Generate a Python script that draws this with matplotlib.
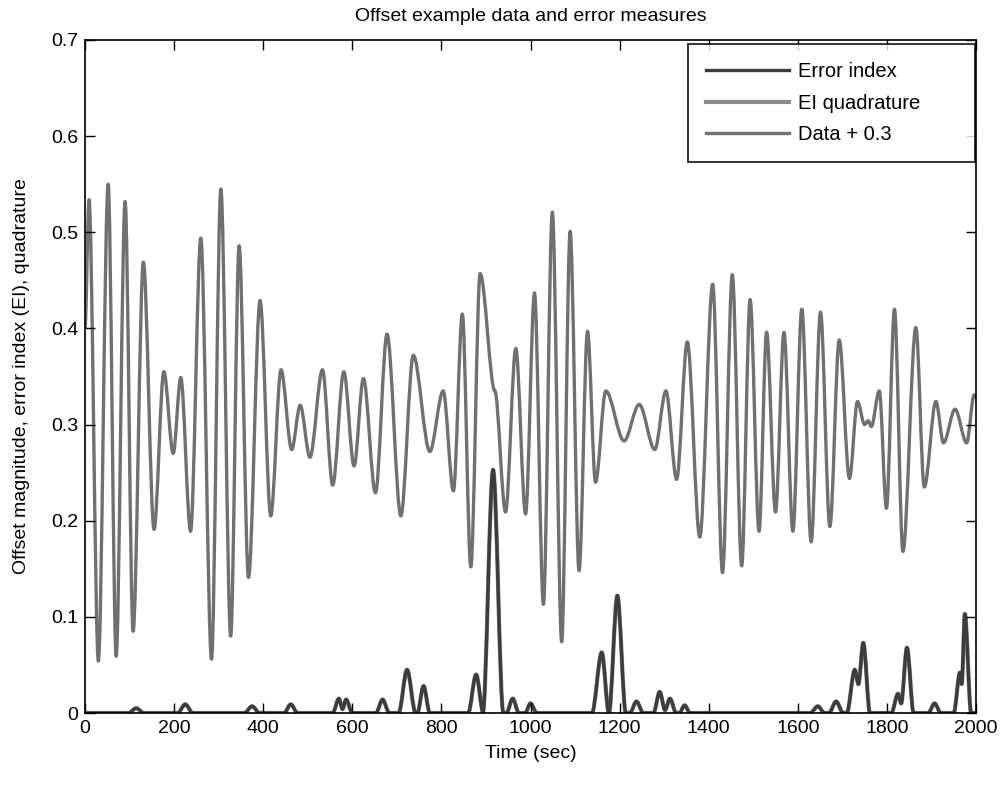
import matplotlib
matplotlib.use("Agg")
import matplotlib.pyplot as plt
from matplotlib.path import Path
from matplotlib.patches import PathPatch
from matplotlib.lines import Line2D

plt.rcParams['font.family'] = ['Liberation Sans', 'DejaVu Sans']

# ---- Data (extrema of each curve) ----
data_t = [0, 9, 30, 52, 70, 90, 108, 131, 155, 177, 198, 215, 237, 260, 284, 305, 327,
          346, 367, 393, 417, 440, 464, 483, 505, 533, 556, 581, 604, 625, 652, 678,
          709, 737, 774, 804, 827, 847, 866, 887, 920, 944, 967, 989, 1009,
          1029, 1049, 1070, 1089, 1109, 1128, 1146, 1169, 1210, 1244, 1279, 1304, 1328, 1352,
          1380, 1409, 1431, 1453, 1474, 1493, 1513, 1530, 1550, 1569, 1589, 1609, 1630, 1651,
          1672, 1693, 1716, 1734, 1750, 1758, 1765, 1783, 1799, 1817, 1836, 1865, 1884, 1910,
          1927, 1953, 1979, 1996, 2000]
data_v = [0.40, 0.534, 0.054, 0.550, 0.059, 0.532, 0.085, 0.469, 0.191, 0.355, 0.270, 0.349,
          0.189, 0.494, 0.056, 0.545, 0.080, 0.486, 0.141, 0.429, 0.205, 0.357, 0.274, 0.320,
          0.266, 0.357, 0.237, 0.355, 0.257, 0.348, 0.229, 0.394,
          0.205, 0.372, 0.272, 0.335, 0.231, 0.415, 0.152, 0.457, 0.335, 0.209, 0.379, 0.207, 0.437,
          0.113, 0.521, 0.074, 0.501, 0.148, 0.397, 0.240, 0.335, 0.283, 0.321, 0.274, 0.335,
          0.243, 0.386,
          0.183, 0.446, 0.146, 0.456, 0.153, 0.430, 0.189, 0.396, 0.209, 0.396, 0.189, 0.420,
          0.178, 0.417, 0.194, 0.388, 0.244, 0.324, 0.300, 0.304, 0.298, 0.335, 0.213, 0.420,
          0.168, 0.401, 0.235, 0.324, 0.281, 0.316, 0.281, 0.331, 0.328]

err_t = [0, 98, 115, 132, 208, 225, 242, 358, 375, 392, 447, 462, 477, 556, 570, 578, 586,
         600, 653, 668, 683, 704, 723, 742, 746, 760, 774, 860, 878, 894, 893, 916, 939,
         946, 960, 974, 988, 1000, 1014, 1138, 1160, 1176, 1195, 1214, 1223, 1238, 1253,
         1276, 1290, 1302, 1313, 1327, 1334, 1346, 1358, 1628, 1645, 1660, 1670, 1686, 1702,
         1710, 1728, 1736, 1747, 1762, 1810, 1825, 1832, 1845, 1860, 1893, 1907, 1921, 1950,
         1964, 1968, 1975, 1989, 2000]
err_v = [0.0, 0.0, 0.005, 0.0, 0.0, 0.009, 0.0, 0.0, 0.007, 0.0, 0.0, 0.009, 0.0, 0.0, 0.015,
         0.004, 0.014, 0.0, 0.0, 0.014, 0.0, 0.0, 0.045, 0.0, 0.0, 0.028, 0.0, 0.0, 0.040,
         0.0, 0.0, 0.253, 0.0, 0.0, 0.015, 0.0, 0.0, 0.010, 0.0, 0.0, 0.063, 0.0, 0.122, 0.0,
         0.0, 0.012, 0.0, 0.0, 0.022, 0.003, 0.015, 0.0, 0.0, 0.008, 0.0, 0.0, 0.007, 0.0,
         0.0, 0.012, 0.0, 0.0, 0.045, 0.030, 0.073, 0.0, 0.0, 0.020, 0.010, 0.068, 0.0, 0.0,
         0.010, 0.0, 0.0, 0.042, 0.030, 0.103, 0.0, 0.0]

# EI quadrature lies under the error index in the reference
quad_t = err_t
quad_v = err_v

labels = ["Error index", "EI quadrature", "Data + 0.3"]
x_ticks = [0, 200, 400, 600, 800, 1000, 1200, 1400, 1600, 1800, 2000]
y_ticks = [0, 0.1, 0.2, 0.3, 0.4, 0.5, 0.6, 0.7]
y_ticklabels = ["0", "0.1", "0.2", "0.3", "0.4", "0.5", "0.6", "0.7"]


def smooth_path(ts, vs):
    verts = [(ts[0], vs[0])]
    codes = [Path.MOVETO]
    for i in range(len(ts) - 1):
        dx = ts[i + 1] - ts[i]
        verts += [(ts[i] + dx / 3.0, vs[i]), (ts[i + 1] - dx / 3.0, vs[i + 1]), (ts[i + 1], vs[i + 1])]
        codes += [Path.CURVE4] * 3
    return Path(verts, codes)


fig = plt.figure(figsize=(10.06, 7.98), dpi=100)
ax = fig.add_axes([85 / 1006, 85 / 798, 891 / 1006, 673 / 798])

c_err = "#3c3c3c"
c_quad = "#8a8a8a"
c_data = "#707070"
lw = 2.4

ax.add_patch(PathPatch(smooth_path(data_t, data_v), fill=False, edgecolor=c_data, lw=lw,
                       transform=ax.transData, joinstyle='round'))
ax.add_patch(PathPatch(smooth_path(quad_t, quad_v), fill=False, edgecolor=c_quad, lw=lw + 0.6,
                       transform=ax.transData, joinstyle='round'))
ax.add_patch(PathPatch(smooth_path(err_t, err_v), fill=False, edgecolor=c_err, lw=lw,
                       transform=ax.transData, joinstyle='round'))

ax.set_xlim(0, 2000)
ax.set_ylim(0, 0.7)
ax.set_xticks(x_ticks)
ax.set_yticks(y_ticks)
ax.set_yticklabels(y_ticklabels)
ax.tick_params(direction='in', length=7, width=1, top=True, right=True, labelsize=14, pad=5)
for s in ax.spines.values():
    s.set_linewidth(1.2)

ax.set_xlabel("Time (sec)", fontsize=14, labelpad=6)
ax.set_ylabel("Offset magnitude, error index (EI), quadrature", fontsize=14, labelpad=15)
ax.set_title("Offset example data and error measures", fontsize=14, pad=14)

handles = [Line2D([], [], color=c_err, lw=lw),
           Line2D([], [], color=c_quad, lw=lw + 0.6),
           Line2D([], [], color=c_data, lw=lw)]
x0 = (688 - 85) / 891
w = (975 - 688) / 891
y1 = (713 - 44) / 673
leg = ax.legend(handles, labels, loc='upper left', bbox_to_anchor=(x0, 0, w, y1),
                mode='expand', fontsize=14.5, frameon=True, fancybox=False,
                edgecolor='black', handlelength=4.1, handletextpad=0.45, borderpad=0.9,
                labelspacing=0.62, borderaxespad=0.0)
leg.get_frame().set_linewidth(1.4)

fig.savefig("out.png", dpi=100)
